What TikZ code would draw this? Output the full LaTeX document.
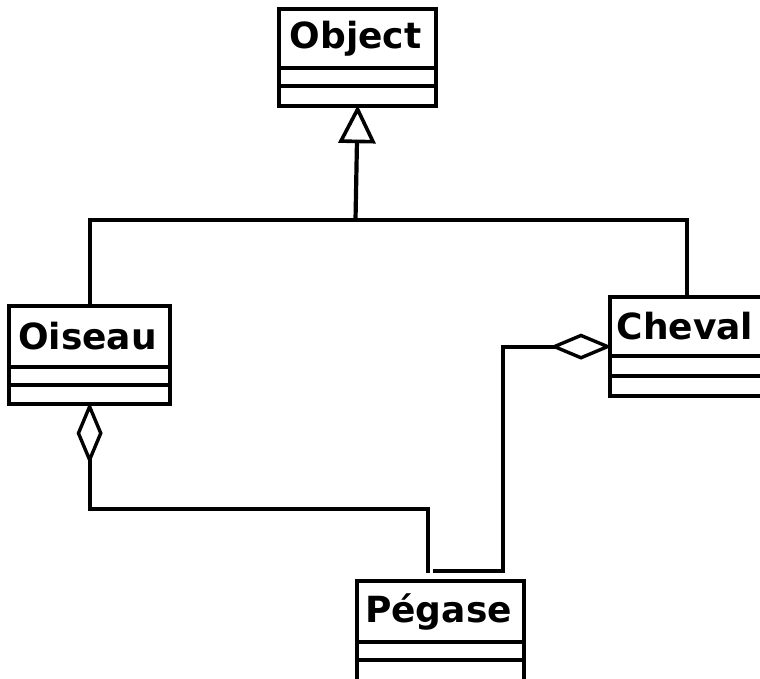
\documentclass[tikz,border=0pt]{standalone}
\usepackage{fontspec}
\setmainfont{DejaVu Sans}
\usetikzlibrary{arrows.meta}

\tikzset{
  umlline/.style={line width=4.2pt, line join=miter},
  classbox/.style={draw, line width=4.2pt, inner sep=0pt, anchor=north west, fill=white},
  classname/.style={font=\fontsize{36}{42}\bfseries\selectfont, inner sep=0pt},
  inherit/.style={-{Triangle[open, length=38pt, width=37pt, line width=3.6pt]}, shorten >=-3pt},
  aggreg/.style={{Diamond[open, length=62pt, width=26pt, line width=3.4pt]}-, shorten <=-4pt},
}

% draws a class box with a name compartment and two empty compartments
% #1 name, #2 left, #3 top, #4 right, #5 bottom, #6 first rule, #7 second rule, #8 label
\newcommand\umlclassbox[8]{%
  \node[classbox, minimum width=#4-#2, minimum height=#5-#3] (#1) at (#2,#3) {};
  \draw[umlline] (#2,#6) -- (#4,#6);
  \draw[umlline] (#2,#7) -- (#4,#7);
  \node[classname] (#1-name) at ({(#2+#4)/2},{(#3+#6)/2+1}) {#8};
}

\begin{document}
\begin{tikzpicture}[x=1pt, y=-1pt]
  \useasboundingbox[fill=white] (0,0) rectangle (760,678);

  \umlclassbox{object}{277}{7}{434}{104}{68}{86}{Object}
  \umlclassbox{oiseau}{7}{304}{168}{402}{367}{385}{Oiseau}
  \umlclassbox{cheval}{608}{295}{762}{394}{356}{376}{Cheval}
  \umlclassbox{pegase}{355}{579}{522}{679}{642}{660}{Pégase}

  % generalisation towards Object
  \coordinate (junction) at (355.5,220);
  \draw[umlline] (oiseau.north) |- (junction) -| (cheval.north);
  \draw[umlline, inherit] (junction) -- (object.south);

  % aggregation of Pégase in Oiseau
  \coordinate (pegA) at (428,573);
  \draw[umlline, aggreg] (oiseau.south) -- ++(0,103) -| (pegA);

  % aggregation of Pégase in Cheval
  \coordinate (pegBturn) at (503,571);
  \coordinate (pegB) at (433,571);
  \draw[umlline, aggreg] (cheval.west) -| (pegBturn) -- (pegB);
\end{tikzpicture}
\end{document}
